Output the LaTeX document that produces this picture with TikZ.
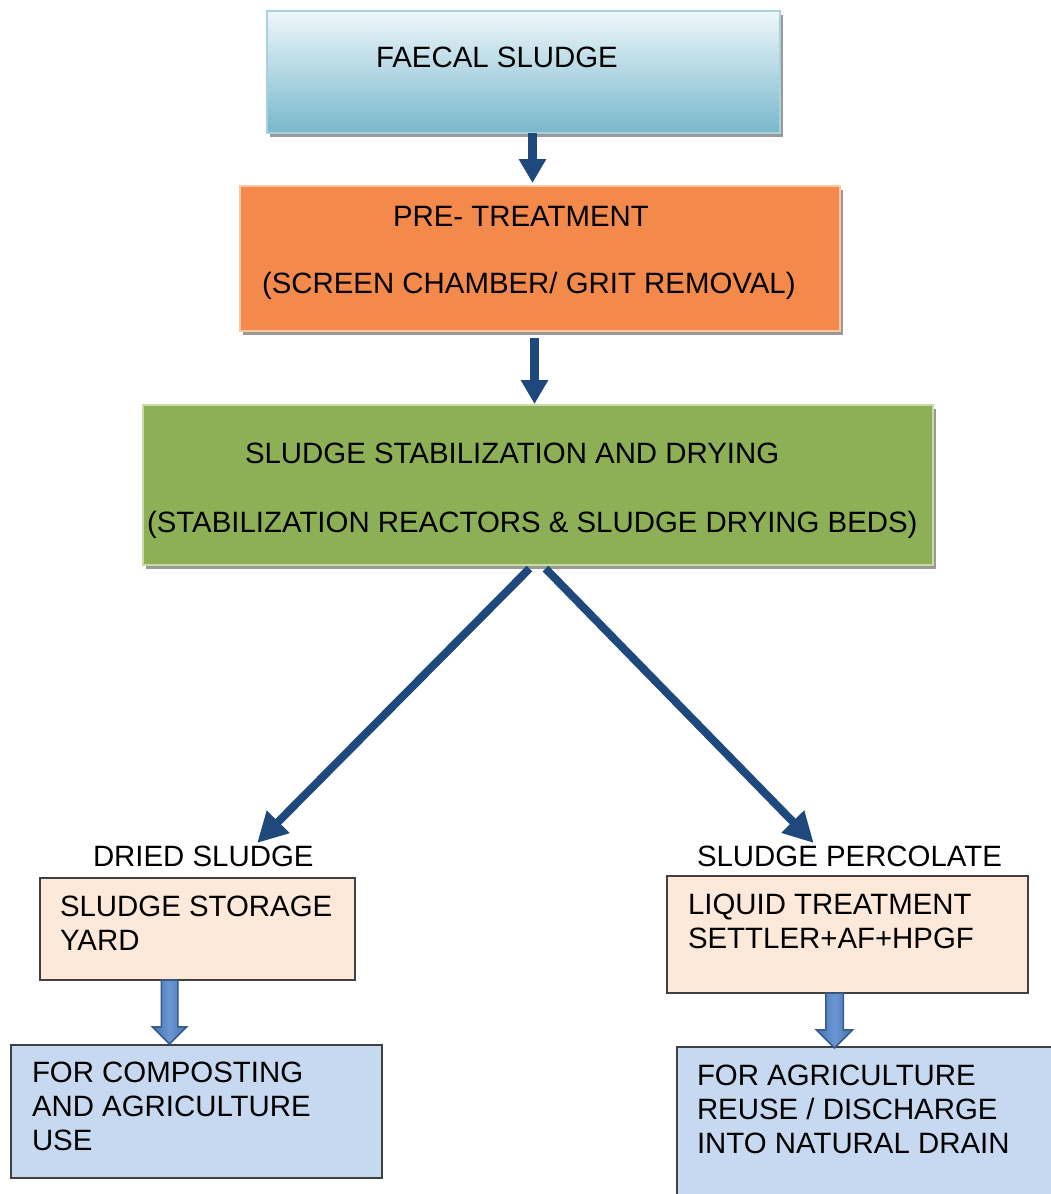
\documentclass[tikz,border=0pt]{standalone}
\usepackage{fontspec}
\setmainfont{Liberation Sans}
\usetikzlibrary{arrows.meta,shadows,shapes.arrows}
\definecolor{fstop}{HTML}{EEF7FA}
\definecolor{fsbot}{HTML}{78B7CC}
\definecolor{fsline}{HTML}{A8D3DE}
\definecolor{prefill}{HTML}{F38A4C}
\definecolor{preline}{HTML}{FAC8A0}
\definecolor{stabfill}{HTML}{8DB056}
\definecolor{stabline}{HTML}{C8DBA4}
\definecolor{navy}{HTML}{1F497D}
\definecolor{peach}{HTML}{FDE9D9}
\definecolor{paleblue}{HTML}{C6D9F1}
\definecolor{blkfill}{HTML}{4471AE}
\definecolor{blkmid}{HTML}{6A96D3}
\definecolor{blkline}{HTML}{375B8A}

\begin{document}
\begin{tikzpicture}[x=1pt,y=-1pt,
    every node/.style={font=\fontsize{29.4}{34}\selectfont,inner sep=0pt,outer sep=0pt},
    stage/.style={rectangle,anchor=north west,line width=2pt,
      drop shadow={shadow xshift=3pt,shadow yshift=-4pt,fill=black!40,opacity=1}},
    plain/.style={rectangle,anchor=north west,draw=black!75,line width=1.2pt},
    txt/.style={anchor=base west},
    mtxt/.style={anchor=north west,align=left},
    flow/.style={draw=navy,line width=9pt,-{Triangle[width=26pt,length=24pt]}},
    split/.style={draw=navy,line width=8pt,-{Triangle[width=30pt,length=30pt]}},
    blk/.style={single arrow,shape border rotate=270,anchor=tail,
      single arrow head indent=0pt,draw=blkline,line width=1.5pt,
      left color=blkfill,right color=blkfill,middle color=blkmid}]
  \useasboundingbox (0,0) rectangle (1051,1194);

  % main line
  \node[stage,top color=fstop,bottom color=fsbot,draw=fsline,
    minimum width=513,minimum height=122] (fs) at (267,11) {};
  \node[txt] (fs-t) at (376,67.4) {FAECAL SLUDGE};

  \node[stage,fill=prefill,draw=preline,
    minimum width=600,minimum height=145] (pre) at (240,186) {};
  \node[txt] (pre-a) at (393,226.4) {PRE- TREATMENT};
  \node[txt] (pre-b) at (262,293.4) {(SCREEN CHAMBER/ GRIT REMOVAL)};

  \node[stage,fill=stabfill,draw=stabline,
    minimum width=790,minimum height=160] (stab) at (143,405) {};
  \node[txt] (stab-a) at (245,463.4) {SLUDGE STABILIZATION AND DRYING};
  \node[txt] (stab-b) at (147,532.4) {(STABILIZATION REACTORS \& SLUDGE DRYING BEDS)};

  \draw[flow,shorten >=3pt] ([xshift=9pt]fs.south) -- ([xshift=9pt]fs.south |- pre.north);
  \draw[flow,shorten <=7pt,shorten >=1pt] ([xshift=-5.5pt]pre.south) -- ([xshift=-5.5pt]pre.south |- stab.north);

  % two branches
  \node[txt] (dried) at (93,866.4) {DRIED SLUDGE};
  \node[txt] (perc) at (697,866.4) {SLUDGE PERCOLATE};

  \draw[split,shorten <=5pt,shorten >=4pt] ([xshift=-5pt]stab.south) -- ([xshift=51pt]dried.north);
  \draw[split,shorten <=5pt,shorten >=4pt] ([xshift=4pt]stab.south) -- ([xshift=-33pt]perc.north);

  \node[plain,fill=peach,minimum width=315,minimum height=102] (yard) at (40,878) {};
  \node[mtxt] (yard-t) at (60,895.6) {SLUDGE STORAGE\\YARD};

  \node[plain,fill=peach,minimum width=361,minimum height=117] (liq) at (667,876) {};
  \node[mtxt] (liq-t) at (688,893.6) {LIQUID TREATMENT\\SETTLER+AF+HPGF};

  \node[plain,fill=paleblue,minimum width=371,minimum height=133] (comp) at (11,1045) {};
  \node[mtxt] (comp-t) at (32,1061.6) {FOR COMPOSTING\\AND AGRICULTURE\\USE};

  \node[plain,fill=paleblue,minimum width=400,minimum height=170] (reuse) at (677,1047) {};
  \node[mtxt] (reuse-t) at (697,1064.6) {FOR AGRICULTURE\\REUSE / DISCHARGE\\INTO NATURAL DRAIN};

  \node[blk,inner sep=7.5pt,single arrow head extend=9pt,minimum height=64]
    (yard-a) at ([xshift=-28pt]yard.south) {};
  \node[blk,inner sep=8pt,single arrow head extend=9.5pt,minimum height=55]
    (liq-a) at ([xshift=-13pt]liq.south) {};
\end{tikzpicture}
\end{document}
